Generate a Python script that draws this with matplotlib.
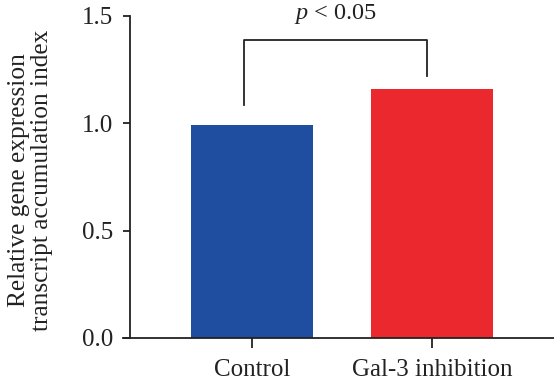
import matplotlib
matplotlib.use('Agg')
import matplotlib.pyplot as plt

# data
groups = ['Control', 'Gal-3 inhibition']
values = [0.99, 1.16]
colors = ['#1f4d9f', '#ea282e']
p_text = '$\\it{p}$ < 0.05'

plt.rcParams['font.family'] = ['Liberation Serif', 'DejaVu Serif']
plt.rcParams['mathtext.fontset'] = 'custom'
plt.rcParams['mathtext.it'] = 'Liberation Serif:italic'

W, H = 554, 388
fig = plt.figure(figsize=(W / 100, H / 100), dpi=100)
# axes box in pixels: x 123..554, y 16..338
ax = fig.add_axes([123 / W, (H - 338) / H, (554 - 123) / W, (338 - 16) / H])

x = list(range(len(groups)))
ax.bar(x, values, width=0.68, color=colors)

ax.set_xlim(-0.717, 1.678)
ax.set_ylim(0, 1.5)

for s in ['top', 'right']:
    ax.spines[s].set_visible(False)
ax.spines['left'].set_position(('data', -0.678))
for s in ['left', 'bottom']:
    ax.spines[s].set_linewidth(1.3)
    ax.spines[s].set_color('#222222')

ax.set_xticks(x)
ax.set_xticklabels(groups, fontsize=18)
ax.set_yticks([0, 0.5, 1.0, 1.5])
ax.set_yticklabels(['0.0', '0.5', '1.0', '1.5'], fontsize=18)
ax.tick_params(axis='both', width=1.3, color='#222222', labelcolor='#222222')
ax.tick_params(axis='x', length=7, pad=8)
ax.tick_params(axis='y', length=5, pad=7)

ax.set_ylabel('Relative gene expression\ntranscript accumulation index', fontsize=18.3,
              color='#222222', linespacing=1.05)
ax.yaxis.set_label_coords(-0.163, 0.49)

# significance bracket
bx0, bx1 = -0.045, 0.97
ytop = 1.388
ax.plot([bx0, bx0, bx1, bx1], [1.085, ytop, ytop, 1.22], color='#222222', lw=1.3,
        clip_on=False)
ax.text((bx0 + bx1) / 2, 1.51, p_text, ha='center', va='center', fontsize=17.5,
        color='#222222', clip_on=False)

fig.savefig('out.png', dpi=100)
